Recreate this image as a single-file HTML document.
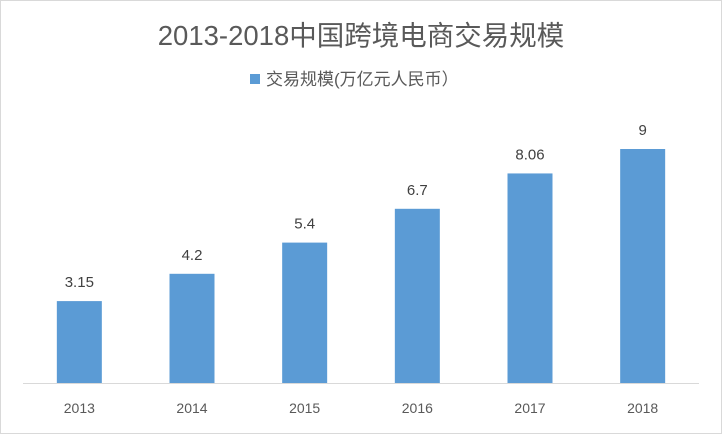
<!DOCTYPE html>
<html><head><meta charset="utf-8"><style>
html,body{margin:0;padding:0;background:#fff;}
svg{display:block;font-family:"Liberation Sans","Noto Sans CJK SC",sans-serif;}
</style></head><body>
<svg id="chart" width="722" height="434" viewBox="0 0 722 434">
<rect x="0.5" y="0.5" width="721" height="433" fill="#fff" stroke="#d9d9d9"/>
<text x="361" y="45" text-anchor="middle" font-size="27.5" fill="#595959">2013-2018中国跨境电商交易规模</text>
<g>
<rect x="250" y="74" width="10" height="10" fill="#5b9bd5"/>
<text x="266" y="85" font-size="17" fill="#595959">交易规模(万亿元人民币）</text>
</g>
<line x1="23" y1="383.5" x2="699" y2="383.5" stroke="#d9d9d9"/>
<g id="bars"></g>
</svg>
<script>
const categories = ["2013","2014","2015","2016","2017","2018"];
const values = [3.15,4.2,5.4,6.7,8.06,9];
const labels = ["3.15","4.2","5.4","6.7","8.06","9"];
const svgNS="http://www.w3.org/2000/svg";
const plotLeft=23, plotRight=699, baseY=383, pxPerUnit=26;
const step=(plotRight-plotLeft)/categories.length;
const barW=45;
function xCenter(i){return plotLeft+step*(i+0.5);}
function yVal(v){return baseY-v*pxPerUnit;}
const g=document.getElementById('bars');
categories.forEach((c,i)=>{
  const r=document.createElementNS(svgNS,'rect');
  r.setAttribute('x',xCenter(i)-barW/2);
  r.setAttribute('y',yVal(values[i]));
  r.setAttribute('width',barW);
  r.setAttribute('height',baseY-yVal(values[i]));
  r.setAttribute('fill','#5b9bd5');
  
  
  g.appendChild(r);
  const t=document.createElementNS(svgNS,'text');
  t.setAttribute('x',xCenter(i));
  t.setAttribute('y',yVal(values[i])-14);
  t.setAttribute('text-anchor','middle');
  t.setAttribute('font-size','15');
  t.setAttribute('fill','#404040');
  t.textContent=labels[i];
  
  
  g.appendChild(t);
  const x=document.createElementNS(svgNS,'text');
  x.setAttribute('x',xCenter(i));
  x.setAttribute('y',413);
  x.setAttribute('text-anchor','middle');
  x.setAttribute('font-size','14');
  x.setAttribute('fill','#595959');
  x.textContent=c;
  
  
  g.appendChild(x);
});
</script>
</body></html>
